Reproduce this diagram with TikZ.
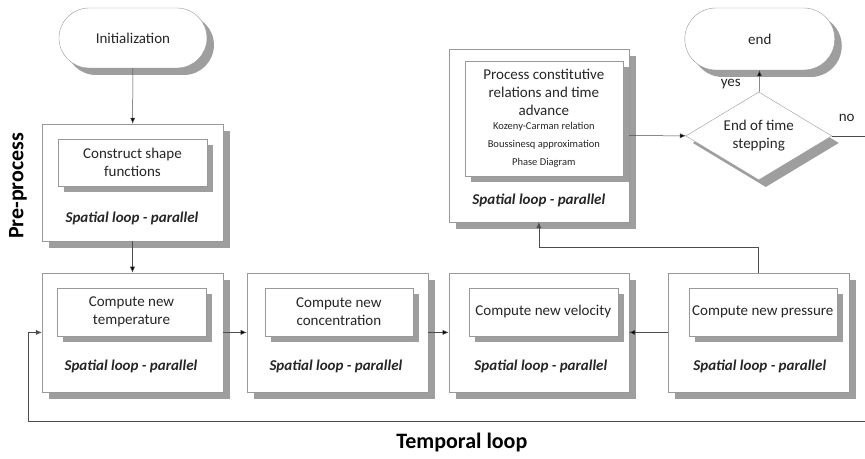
\documentclass[tikz,border=0pt]{standalone}
\usepackage{fontspec}
\setmainfont{Carlito}
\usetikzlibrary{shapes.geometric,arrows.meta}

\newcommand{\smalltxt}{\fontsize{10.5}{16.5}\selectfont}

\begin{document}
\begin{tikzpicture}
  [x=1pt,y=-1pt,
   every node/.style={font=\fontsize{15}{18}\selectfont,text=black!85},
   shadowfill/.style={fill=black!38},
   loopbox/.style={draw=black!40,fill=white,minimum width=181pt,minimum height=119pt,inner sep=0pt},
   taskbox/.style={draw=black!40,fill=white,align=center,inner sep=0pt,minimum width=149pt,minimum height=48pt},
   looplabel/.style={font=\fontsize{15}{18}\selectfont\bfseries\itshape},
   term/.style={draw=black!40,fill=white,rounded corners=30pt,minimum width=148pt,minimum height=60pt},
   decision/.style={diamond,draw=black!40,fill=white,aspect=1.66,align=center,
     minimum width=146pt,minimum height=88pt,inner sep=0pt},
   title/.style={font=\fontsize{22}{24}\selectfont\bfseries,text=black},
   flow/.style={draw=black!70,line width=0.5pt,-{Latex[length=6pt,width=5pt]}}]
  \fill[white] (0,0) rectangle (865,459);

  % shadows of the outer shapes
  \foreach \xa/\ya/\xb/\yb in {49/131/230/248, 49/280/230/399, 254/280/435/399,
                               456/280/636/399, 675/280/856/399, 456/56/636/229}
    \fill[shadowfill] (\xa,\ya) rectangle (\xb,\yb);
  \fill[shadowfill,rounded corners=30pt] (66,15) rectangle (214,75);
  \fill[shadowfill,rounded corners=31pt] (692,15) rectangle (842,77);
  \fill[shadowfill] (766,99) -- (839,143) -- (766,187) -- (693,143) -- cycle;

  \node[term] (init) at (133,38) {Initialization};
  \node[loopbox,minimum height=117pt] (pre) at (132.5,182.5) {};
  \node[loopbox] (temp) at (132.5,332.5) {};
  \node[loopbox] (conc) at (337.5,332.5) {};
  \node[loopbox,minimum width=180pt] (vel) at (539,332.5) {};
  \node[loopbox] (pres) at (758.5,332.5) {};
  \node[loopbox,minimum width=180pt,minimum height=173pt] (proc) at (539,135.5) {};
  \node[term,minimum width=150pt,minimum height=62pt,rounded corners=31pt] (end) at (760,39) {end};
  \node[decision] (stop) at (759,136) {End of time\\stepping};

  % shadows of the inner boxes
  \foreach \xa/\ya/\xb/\yb in {64/145/213/192, 63/294/212/342, 271/294/419/342,
                               475/294/624/342, 695/294/843/342, 471/67/629/182}
    \fill[shadowfill] (\xa,\ya) rectangle (\xb,\yb);

  % pre-process
  \node[taskbox,minimum height=47pt] (shape) at (132.5,162.5) {Construct shape\\functions};
  \node[looplabel] (prelab) at (132,218) {Spatial loop - parallel};
  \node[title,rotate=90] (pretitle) at (18,186) {Pre-process};

  % temporal loop
  \node[taskbox] (tempin) at (131.5,312) {Compute new\\temperature};
  \node[looplabel] (templab) at (131,367) {Spatial loop - parallel};
  \node[taskbox,minimum width=148pt] (concin) at (339,312) {Compute new\\concentration};
  \node[looplabel] (conclab) at (336,367) {Spatial loop - parallel};
  \node[taskbox] (velin) at (543.5,312) {Compute new velocity};
  \node[looplabel] (vellab) at (541,367) {Spatial loop - parallel};
  \node[taskbox,minimum width=148pt] (presin) at (763,312) {Compute new pressure};
  \node[looplabel] (preslab) at (760,367) {Spatial loop - parallel};
  \node[title] (temporal) at (462,443) {Temporal loop};

  % constitutive relations and end
  \node[taskbox,minimum width=158pt,minimum height=115pt] (procin) at (544,118.5)
    {Process constitutive\\relations and time\\advance\\[-4pt]
     {\smalltxt Kozeny-Carman relation}\\{\smalltxt Boussinesq approximation}\\{\smalltxt Phase Diagram}};
  \node[looplabel] (proclab) at (539,200) {Spatial loop - parallel};
  \node (yes) at (731,84) {yes};
  \node (no) at (847,118) {no};

  \coordinate (noR) at (865,136);
  \coordinate (loopR) at (865,421);

  \path [flow]
    (init) edge (pre)
    (pre) edge (temp)
    (temp) edge (conc)
    (conc) edge (vel)
    (pres) edge (vel)
    (proc) edge (stop)
    (stop) edge (end);
  \draw [draw=black!70,line width=0.5pt] (stop.east) -- (noR);
  \draw [flow] (pres.north) -- ++(0,-25) -| (proc.south);
  \draw [flow] (loopR) -| ([xshift=-14pt]temp.west) -- (temp.west);
\end{tikzpicture}
\end{document}
